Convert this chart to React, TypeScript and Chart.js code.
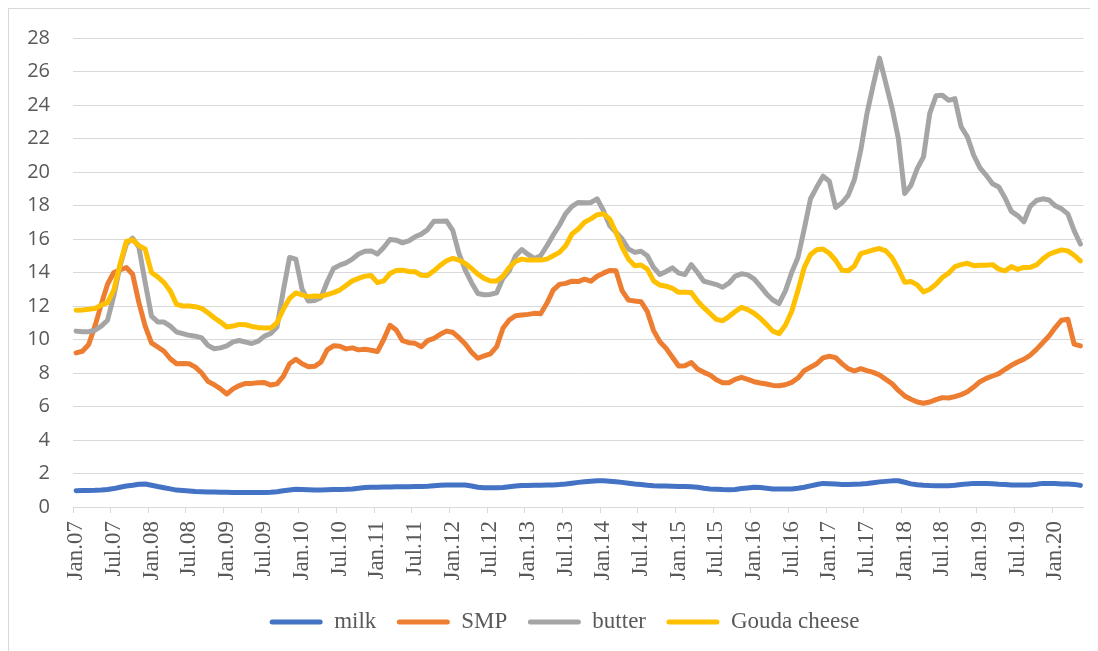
import React, { useEffect, useRef } from "react";
import { Chart, registerables } from "chart.js";

Chart.register(...registerables);

const MONTHS = ["Jan", "Feb", "Mar", "Apr", "May", "Jun", "Jul", "Aug", "Sep", "Oct", "Nov", "Dec"];

// Monthly categories Jan.07 .. May.20
const categories: string[] = [];
for (let y = 7; y <= 20; y++) {
  for (let m = 0; m < 12; m++) {
    if (y === 20 && m > 4) break;
    categories.push(`${MONTHS[m]}.${String(y).padStart(2, "0")}`);
  }
}

const tickLabels = [
  "Jan.07", "Jul.07", "Jan.08", "Jul.08", "Jan.09", "Jul.09", "Jan.10", "Jul.10",
  "Jan.11", "Jul.11", "Jan.12", "Jul.12", "Jan.13", "Jul.13", "Jan.14", "Jul.14",
  "Jan.15", "Jul.15", "Jan.16", "Jul.16", "Jan.17", "Jul.17", "Jan.18", "Jul.18",
  "Jan.19", "Jul.19", "Jan.20",
];

const yTicks = [0, 2, 4, 6, 8, 10, 12, 14, 16, 18, 20, 22, 24, 26, 28];

const milk = [
  0.97, 0.98, 0.99, 1.0, 1.02, 1.05, 1.1, 1.18, 1.25, 1.3,
  1.36, 1.37, 1.3, 1.22, 1.15, 1.08, 1.01, 0.98, 0.95, 0.92,
  0.91, 0.9, 0.89, 0.88, 0.88, 0.87, 0.87, 0.87, 0.86, 0.86,
  0.86, 0.88, 0.91, 0.97, 1.02, 1.06, 1.05, 1.03, 1.01, 1.02,
  1.03, 1.04, 1.05, 1.06, 1.08, 1.12, 1.16, 1.18, 1.18, 1.19,
  1.2, 1.21, 1.21, 1.21, 1.22, 1.22, 1.24, 1.27, 1.3, 1.31,
  1.31, 1.31, 1.31, 1.25, 1.18, 1.15, 1.15, 1.15, 1.17, 1.21,
  1.25, 1.29, 1.29, 1.3, 1.3, 1.31, 1.32, 1.34, 1.37, 1.42,
  1.47, 1.51, 1.54, 1.57, 1.56, 1.54, 1.51, 1.47, 1.42, 1.37,
  1.34, 1.3, 1.27, 1.26, 1.25, 1.24, 1.23, 1.22, 1.21, 1.18,
  1.12, 1.08, 1.06, 1.04, 1.03, 1.05, 1.1, 1.14, 1.18, 1.16,
  1.12, 1.08, 1.07, 1.07, 1.07, 1.12, 1.18, 1.26, 1.34, 1.41,
  1.39, 1.37, 1.35, 1.35, 1.36, 1.37, 1.4, 1.45, 1.5, 1.53,
  1.56, 1.57, 1.48, 1.38, 1.33, 1.3, 1.28, 1.27, 1.27, 1.27,
  1.3, 1.34, 1.38, 1.41, 1.41, 1.41, 1.39, 1.36, 1.34, 1.31,
  1.31, 1.31, 1.32, 1.36, 1.41, 1.41, 1.4, 1.38, 1.37, 1.35,
  1.29,
];

const smp = [
  9.2, 9.3, 9.7, 10.8, 12.1, 13.3, 14.0, 14.15, 14.3, 13.9,
  12.2, 10.8, 9.8, 9.55, 9.3, 8.85, 8.55, 8.57, 8.55, 8.35,
  8.0, 7.5, 7.3, 7.05, 6.75, 7.05, 7.25, 7.38, 7.38, 7.42,
  7.43, 7.28, 7.35, 7.8, 8.55, 8.82, 8.55, 8.37, 8.4, 8.65,
  9.38, 9.62, 9.6, 9.44, 9.5, 9.38, 9.42, 9.36, 9.28, 10.0,
  10.85, 10.57, 9.93, 9.81, 9.77, 9.57, 9.93, 10.07, 10.31, 10.5,
  10.43, 10.11, 9.73, 9.24, 8.88, 9.02, 9.14, 9.57, 10.67, 11.16,
  11.42, 11.46, 11.5, 11.56, 11.54, 12.16, 12.95, 13.29, 13.35, 13.48,
  13.46, 13.6, 13.48, 13.78, 13.96, 14.12, 14.1, 12.9, 12.35, 12.3,
  12.26, 11.67, 10.53, 9.87, 9.47, 8.94, 8.42, 8.44, 8.62, 8.24,
  8.04, 7.88, 7.6, 7.42, 7.42, 7.62, 7.74, 7.62, 7.48, 7.4,
  7.34, 7.26, 7.24, 7.3, 7.44, 7.7, 8.14, 8.34, 8.55, 8.9,
  9.0, 8.92, 8.56, 8.26, 8.12, 8.26, 8.14, 8.04, 7.88, 7.62,
  7.36, 6.96, 6.63, 6.43, 6.27, 6.19, 6.27, 6.41, 6.53, 6.51,
  6.59, 6.71, 6.88, 7.16, 7.48, 7.68, 7.82, 7.96, 8.22, 8.46,
  8.66, 8.82, 9.06, 9.41, 9.81, 10.21, 10.71, 11.15, 11.21, 9.72,
  9.62,
];

const butter = [
  10.5, 10.46, 10.46, 10.55, 10.8, 11.15, 12.6, 14.4, 15.7, 16.05,
  15.5, 13.4, 11.4, 11.05, 11.04, 10.8, 10.45, 10.35, 10.25, 10.2,
  10.1, 9.65, 9.45, 9.5, 9.62, 9.86, 9.94, 9.84, 9.76, 9.9,
  10.2, 10.36, 10.74, 12.9, 14.9, 14.8, 13.0, 12.3, 12.33, 12.5,
  13.45, 14.24, 14.44, 14.58, 14.8, 15.1, 15.27, 15.29, 15.1, 15.49,
  15.97, 15.93, 15.77, 15.89, 16.13, 16.29, 16.56, 17.06, 17.06, 17.08,
  16.52, 15.13, 14.14, 13.39, 12.75, 12.67, 12.69, 12.79, 13.65, 14.1,
  14.98, 15.37, 15.08, 14.84, 15.0, 15.59, 16.23, 16.82, 17.52, 17.95,
  18.18, 18.16, 18.18, 18.4, 17.7, 16.8, 16.4, 16.0, 15.4, 15.2,
  15.27, 15.0, 14.3, 13.88, 14.06, 14.28, 13.96, 13.88, 14.47, 14.0,
  13.48, 13.38, 13.28, 13.12, 13.36, 13.78, 13.92, 13.86, 13.62, 13.18,
  12.72, 12.36, 12.15, 12.9, 14.0, 14.9, 16.6, 18.4, 19.1, 19.75,
  19.45, 17.88, 18.15, 18.6, 19.55, 21.3, 23.5, 25.2, 26.8, 25.3,
  23.8, 22.0, 18.72, 19.2, 20.2, 20.9, 23.5, 24.55, 24.58, 24.28,
  24.38, 22.7, 22.1, 21.0, 20.25, 19.8, 19.3, 19.1, 18.45, 17.65,
  17.4, 17.03, 17.95, 18.3, 18.4, 18.33, 17.98, 17.8, 17.5, 16.5,
  15.7,
];

const gouda = [
  11.75, 11.76, 11.8, 11.85, 12.05, 12.2, 12.95, 14.5, 15.85, 15.95,
  15.6, 15.4, 14.0, 13.74, 13.4, 12.9, 12.1, 12.0, 12.0, 11.96,
  11.86, 11.6, 11.3, 11.04, 10.75, 10.8, 10.9, 10.88, 10.78, 10.72,
  10.68, 10.68, 11.0, 11.8, 12.45, 12.78, 12.66, 12.56, 12.6, 12.58,
  12.68, 12.8, 12.95, 13.22, 13.5, 13.65, 13.78, 13.82, 13.4, 13.5,
  13.94, 14.12, 14.14, 14.06, 14.04, 13.84, 13.82, 14.1, 14.42, 14.7,
  14.84, 14.74, 14.54, 14.24, 13.9, 13.65, 13.49, 13.49, 13.78, 14.3,
  14.66, 14.8, 14.74, 14.74, 14.74, 14.8, 15.0, 15.2, 15.6, 16.3,
  16.6, 17.0, 17.2, 17.45, 17.5, 17.2, 16.4, 15.5, 14.8, 14.4,
  14.45, 14.2, 13.5, 13.25, 13.18, 13.05, 12.82, 12.82, 12.8, 12.3,
  11.9, 11.55, 11.2, 11.12, 11.37, 11.67, 11.92, 11.78, 11.57, 11.27,
  10.89, 10.5, 10.35, 10.85, 11.67, 12.92, 14.3, 15.07, 15.36, 15.4,
  15.15, 14.73, 14.14, 14.1, 14.39, 15.13, 15.23, 15.35, 15.43, 15.29,
  14.89, 14.2, 13.42, 13.46, 13.26, 12.84, 13.0, 13.3, 13.7, 13.96,
  14.35, 14.47, 14.55, 14.41, 14.43, 14.43, 14.47, 14.2, 14.1, 14.35,
  14.18, 14.3, 14.31, 14.45, 14.81, 15.09, 15.23, 15.35, 15.29, 15.03,
  14.69,
];

const seriesNames = ["milk", "SMP", "butter", "Gouda cheese"];
const seriesColors = ["#4472C4", "#ED7D31", "#A5A5A5", "#FFC000"];
const seriesData = [milk, smp, butter, gouda];

const GRID = "#d9d9d9";
const TEXT = "#595959";
const CANVAS_W = 1107;
const CANVAS_H = 642;

const legendShift = {
  id: "legendShift",
  afterLayout(chart: any) {
    const l = chart.legend;
    if (l) {
      l.left += 2;
      l.right += 2;
    }
  },
};

export default function App() {
  const ref = useRef<HTMLCanvasElement>(null);

  useEffect(() => {
    if (!ref.current) return;
    const tickSet = new Set(tickLabels);
    const chart = new Chart(ref.current, {
      type: "line",
      plugins: [legendShift],
      data: {
        labels: categories,
        datasets: seriesNames.map((name, k) => ({
          label: name,
          data: seriesData[k],
          borderColor: seriesColors[k],
          backgroundColor: seriesColors[k],
          borderWidth: 5,
          pointRadius: 0,
          pointHoverRadius: 0,
          tension: 0,
          fill: false,
          borderCapStyle: "round" as const,
          borderJoinStyle: "round" as const,
          order: 3 - k,
        })),
      },
      options: {
        animation: false,
        responsive: false,
        events: [],
        layout: { padding: { left: 0, right: 0, top: 29, bottom: 7.5 } },
        plugins: {
          tooltip: { enabled: false },
          legend: {
            position: "bottom",
            labels: {
              boxWidth: 53,
              boxHeight: 5,
              useBorderRadius: true,
              borderRadius: 2.5,
              padding: 20.5,
              color: TEXT,
              font: { family: "'Liberation Serif', 'Times New Roman', serif", size: 23 },
              sort: (a: any, b: any) => a.datasetIndex - b.datasetIndex,
              generateLabels: (c: any) =>
                (Chart.defaults.plugins.legend.labels as any)
                  .generateLabels(c)
                  .map((l: any) => ({ ...l, lineWidth: 0, strokeStyle: "transparent" })),
            },
          },
        },
        scales: {
          x: {
            type: "category",
            offset: true,
            grid: {
              offset: true,
              drawOnChartArea: false,
              drawTicks: true,
              tickLength: 6,
              lineWidth: 1,
              color: (ctx: any) =>
                typeof ctx.index === "number" && tickSet.has(categories[ctx.index]) ? GRID : "rgba(0,0,0,0)",
            },
            border: { display: true, color: GRID, width: 1 },
            ticks: {
              autoSkip: false,
              maxRotation: 90,
              minRotation: 90,
              padding: 8,
              color: TEXT,
              font: { family: "'Liberation Serif', 'Times New Roman', serif", size: 23 },
              callback: (_v: any, i: number) => (tickSet.has(categories[i]) ? categories[i] : ""),
            },
            afterFit: (s: any) => {
              s.height = 83;
            },
          },
          y: {
            min: yTicks[0],
            max: yTicks[yTicks.length - 1],
            afterBuildTicks: (s: any) => {
              s.ticks = yTicks.map((v) => ({ value: v }));
            },
            grid: { color: GRID, lineWidth: 1, drawTicks: false },
            border: { display: false },
            ticks: {
              padding: 23,
              color: TEXT,
              font: { family: "'Open Sans', 'Noto Sans', sans-serif", size: 20, lineHeight: 0.5 },
            },
            afterFit: (s: any) => {
              s.width = 64;
            },
          },
        },
      } as any,
    });
    return () => chart.destroy();
  }, []);

  return (
    <div
      style={{
        width: 1090,
        height: 643,
        boxSizing: "border-box",
        borderTop: `1px solid ${GRID}`,
        borderLeft: `1px solid ${GRID}`,
        overflow: "hidden",
      }}
    >
      <canvas
        ref={ref}
        width={CANVAS_W}
        height={CANVAS_H}
        style={{ display: "block", width: CANVAS_W, height: CANVAS_H }}
      />
    </div>
  );
}
